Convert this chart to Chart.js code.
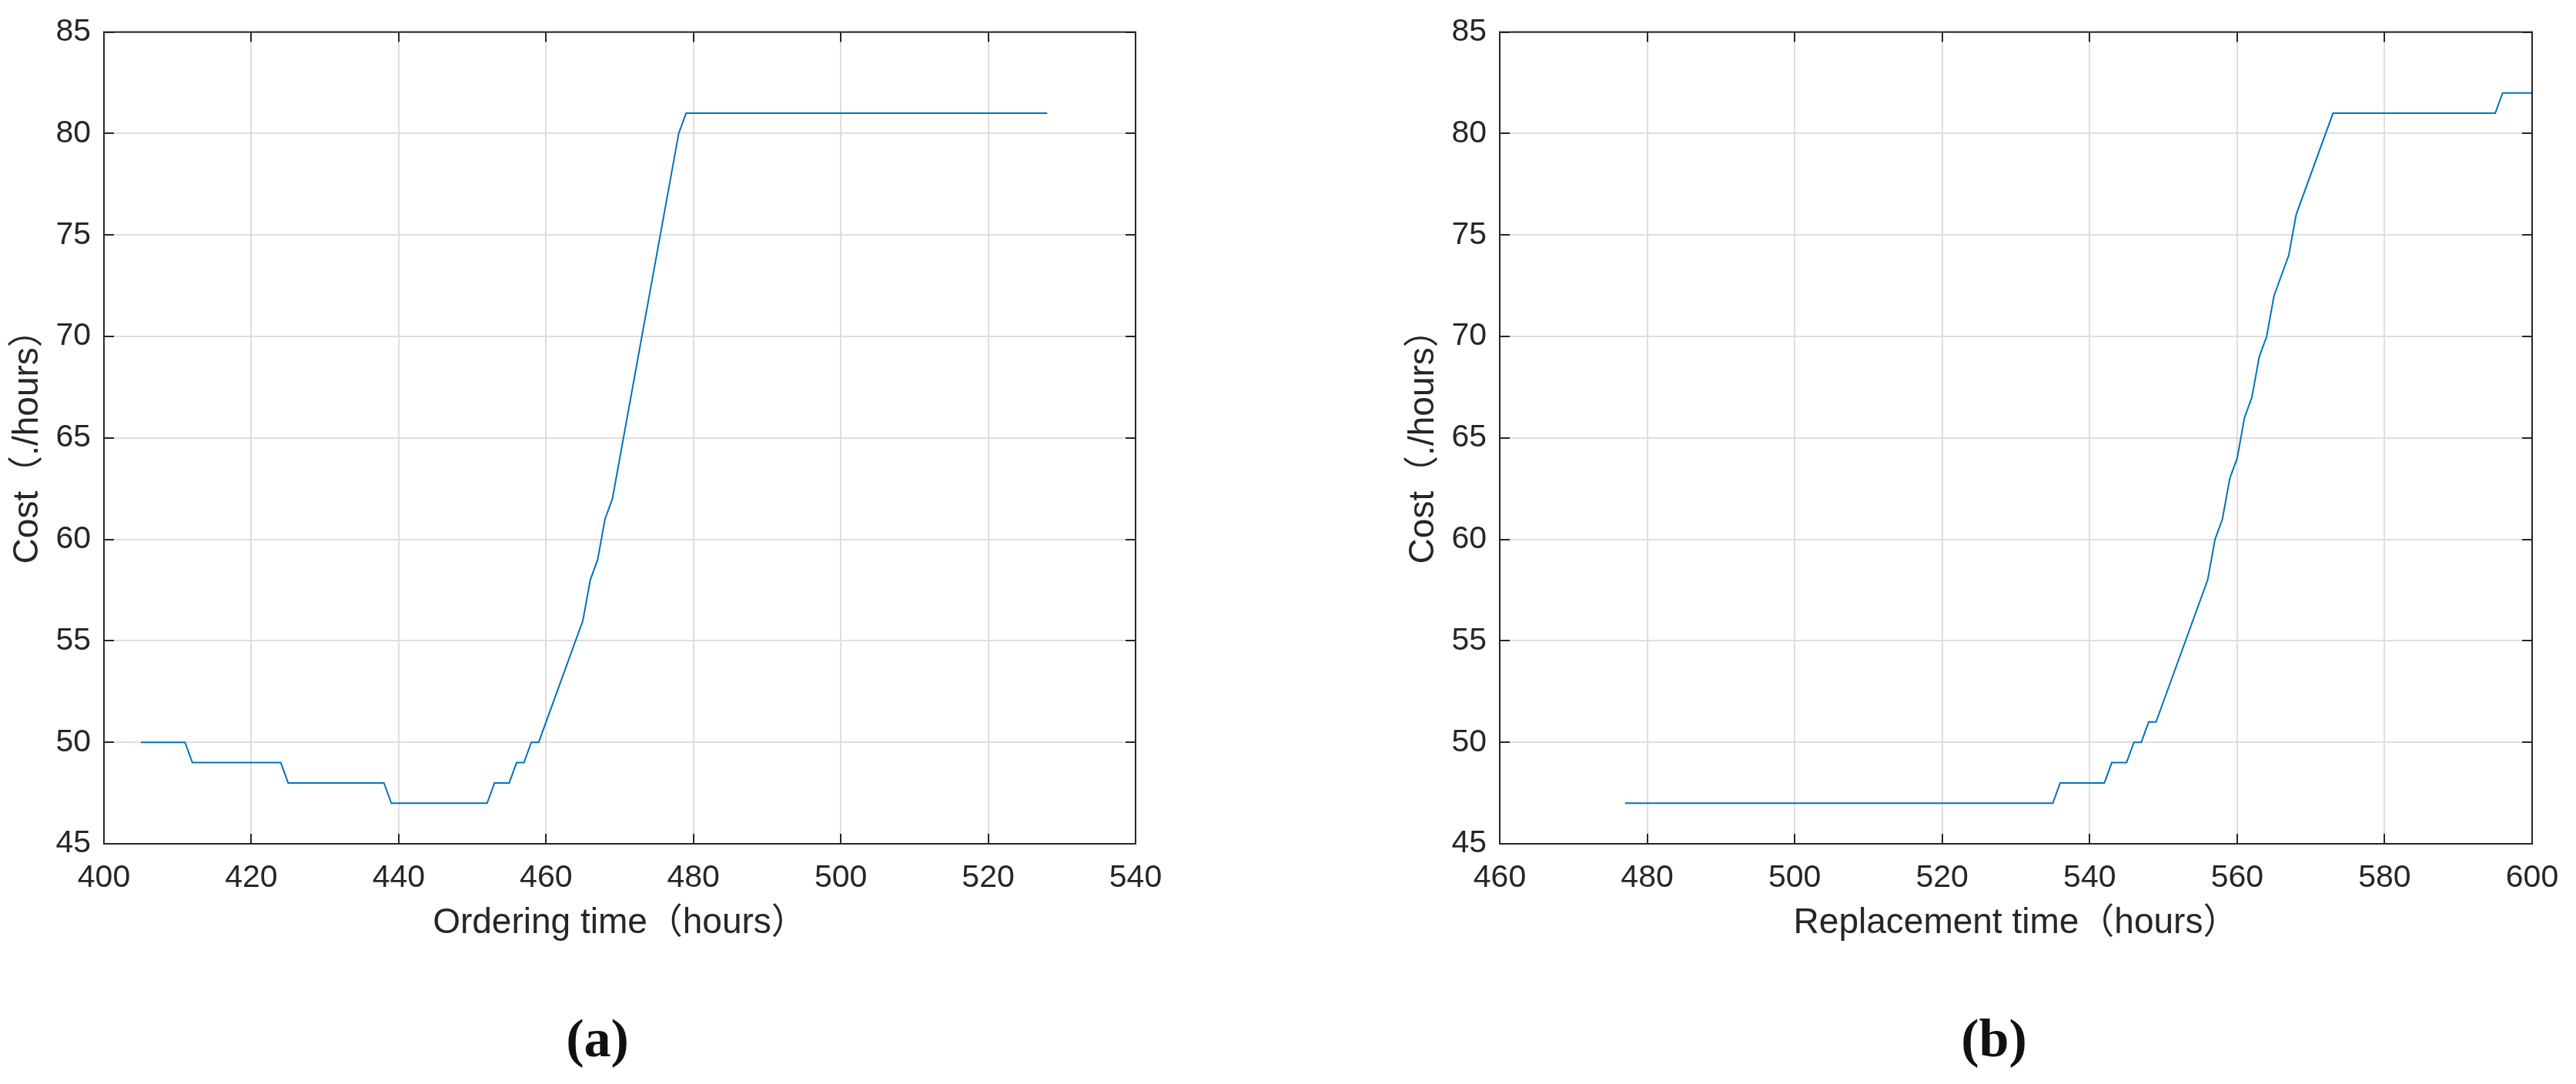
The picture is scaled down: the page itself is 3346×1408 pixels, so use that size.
<!DOCTYPE html>
<html>
<head>
<meta charset="utf-8">
<script src="https://cdn.jsdelivr.net/npm/chart.js@4"></script>
<style>
  body { margin: 0; background: #fff; }
  .panel { position: absolute; top: 0; height: 1408px; }
  #panelA { left: 0; width: 1673px; }
  #panelB { left: 1813px; width: 1533px; }
  .tag {
    position: absolute; top: 1349px; transform: translate(-50%, -50%);
    font: bold 70px 'Liberation Serif', 'Times New Roman', serif; color: #111;
  }
</style>
</head>
<body>
<div id="panelA" class="panel"><canvas id="chartA"></canvas></div>
<div id="panelB" class="panel"><canvas id="chartB"></canvas></div>
<div class="tag" style="left:776px">(a)</div>
<div class="tag" style="left:2590px">(b)</div>
<script>
// (a) ordering time vs cost -- corner points
const orderHours = [405, 411, 412, 424, 425, 438, 439, 452, 453, 455, 456, 457, 458, 459, 465, 466, 467, 468, 469, 478, 479, 528];
const orderCost  = [50, 50, 49, 49, 48, 48, 47, 47, 48, 48, 49, 49, 50, 50, 56, 58, 59, 61, 62, 80, 81, 81];

// (b) replacement time vs cost
const replaceHours = [477, 535, 536, 542, 543, 545, 546, 547, 548, 549, 556, 557, 558, 559, 560, 561, 562, 563, 564, 565, 567, 568, 573, 595, 596, 600];
const replaceCost  = [47, 47, 48, 48, 49, 49, 50, 50, 51, 51, 58, 60, 61, 63, 64, 66, 67, 69, 70, 72, 74, 76, 81, 81, 82, 82];

// tick labels
const costTicks    = [45, 50, 55, 60, 65, 70, 75, 80, 85];
const orderTicks   = [400, 420, 440, 460, 480, 500, 520, 540];
const replaceTicks = [460, 480, 500, 520, 540, 560, 580, 600];

const axisColor = '#262626';
const gridColor = '#dedede';
const fontFamily = "'Liberation Sans', Arial, 'Noto Sans CJK SC', sans-serif";

// matlab style box with inward ticks on all four sides
const boxPlugin = {
  id: 'boxPlugin',
  afterDraw(chart) {
    const { ctx, chartArea: a, scales } = chart;
    const tl = 13;
    ctx.save();
    ctx.strokeStyle = axisColor;
    ctx.lineWidth = 2;
    ctx.beginPath();
    scales.x.ticks.forEach(t => {
      const px = Math.round(scales.x.getPixelForValue(t.value));
      ctx.moveTo(px, a.bottom); ctx.lineTo(px, a.bottom - tl);
      ctx.moveTo(px, a.top); ctx.lineTo(px, a.top + tl);
    });
    scales.y.ticks.forEach(t => {
      const py = Math.round(scales.y.getPixelForValue(t.value));
      ctx.moveTo(a.left, py); ctx.lineTo(a.left + tl, py);
      ctx.moveTo(a.right, py); ctx.lineTo(a.right - tl, py);
    });
    ctx.stroke();
    ctx.strokeRect(a.left, a.top, a.right - a.left, a.bottom - a.top);
    ctx.restore();
  }
};

function makeChart(id, hours, cost, xTicks, xLabel, rightPad) {
  const pts = hours.map((h, i) => ({ x: h, y: cost[i] }));
  return new Chart(document.getElementById(id), {
    type: 'line',
    data: {
      datasets: [{
        data: pts,
        borderColor: '#0072BD',
        borderWidth: 2,
        pointRadius: 0,
        tension: 0,
        fill: false
      }]
    },
    options: {
      responsive: true,
      maintainAspectRatio: false,
      animation: false,
      layout: { padding: { left: 0, top: 38, right: rightPad, bottom: 0 } },
      plugins: { legend: { display: false }, tooltip: { enabled: false } },
      scales: {
        x: {
          type: 'linear',
          min: xTicks[0],
          max: xTicks[xTicks.length - 1],
          afterBuildTicks: s => { s.ticks = xTicks.map(v => ({ value: v })); },
          afterFit: s => { s.height = 312; },
          grid: { color: gridColor, lineWidth: 2, drawTicks: false },
          border: { display: false },
          ticks: {
            padding: 20,
            color: axisColor,
            maxRotation: 0,
            font: { family: fontFamily, size: 41, lineHeight: 1.2 }
          },
          title: {
            display: true,
            text: xLabel,
            color: axisColor,
            padding: { top: 0, bottom: 186 },
            font: { family: fontFamily, size: 46, lineHeight: 1 }
          }
        },
        y: {
          min: costTicks[0],
          max: costTicks[costTicks.length - 1],
          afterBuildTicks: s => { s.ticks = costTicks.map(v => ({ value: v })); },
          afterFit: s => { s.width = 135; },
          grid: { color: gridColor, lineWidth: 2, drawTicks: false },
          border: { display: false },
          ticks: {
            padding: 17,
            color: axisColor,
            font: { family: fontFamily, size: 41, lineHeight: 1.2 }
          },
          title: {
            display: true,
            text: 'Cost（./hours）',
            color: axisColor,
            padding: { top: 13, bottom: 0 },
            font: { family: fontFamily, size: 46, lineHeight: 1 }
          }
        }
      }
    },
    plugins: [boxPlugin]
  });
}

let chartA = makeChart('chartA', orderHours, orderCost, orderTicks, 'Ordering time（hours）', 198);
let chartB = makeChart('chartB', replaceHours, replaceCost, replaceTicks, 'Replacement time（hours）', 57);
</script>
</body>
</html>
